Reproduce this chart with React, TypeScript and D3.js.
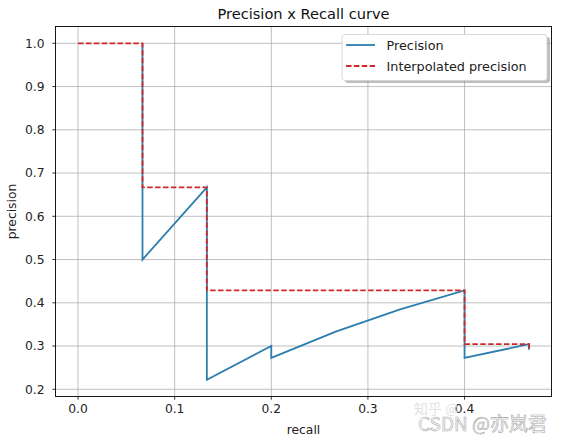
import React from 'react';
import * as d3 from 'd3';

// detections sorted by confidence (15 ground truths)
const recall = [
  0.0667, 0.0667, 0.1333, 0.1333, 0.1333, 0.1333, 0.1333, 0.1333, 0.1333, 0.2, 0.2, 0.2667,
  0.3333, 0.4, 0.4, 0.4, 0.4, 0.4, 0.4, 0.4, 0.4, 0.4, 0.4667, 0.4667,
];
const precision = [
  1.0, 0.5, 0.6667, 0.5, 0.4, 0.3333, 0.2857, 0.25, 0.2222, 0.3, 0.2727, 0.3333, 0.3846,
  0.4286, 0.4, 0.375, 0.3529, 0.3333, 0.3158, 0.3, 0.2857, 0.2727, 0.3043, 0.2917,
];
const interpRecall = [0, 0.0667, 0.0667, 0.1333, 0.1333, 0.4, 0.4, 0.4667, 0.4667];
const interpPrecision = [1.0, 1.0, 0.6667, 0.6667, 0.4286, 0.4286, 0.3043, 0.3043, 0.2917];
const xTicks = [0.0, 0.1, 0.2, 0.3, 0.4];
const yTicks = [0.2, 0.3, 0.4, 0.5, 0.6, 0.7, 0.8, 0.9, 1.0];

const W = 567;
const H = 439;
const left = 55.5;
const right = 551.5;
const top = 26.5;
const bottom = 396.5;
const font = "'DejaVu Sans', sans-serif";
const blue = '#2b7eae';
const red = '#d02828';

export default function App() {
  const x = d3.scaleLinear().domain([-0.02333, 0.49]).range([left, right]);
  const y = d3.scaleLinear().domain([0.18333, 1.03889]).range([bottom, top]);

  const line = d3
    .line<[number, number]>()
    .x((d) => x(d[0]))
    .y((d) => y(d[1]));

  const precPts = recall.map((r, i) => [r, precision[i]] as [number, number]);
  const interpPts = interpRecall.map((r, i) => [r, interpPrecision[i]] as [number, number]);

  return (
    <svg
      width={W}
      height={H}
      style={{ position: 'absolute', left: 0, top: 0, background: '#fff' }}
      fontFamily={font}
    >
      <defs>
        <clipPath id="plot">
          <rect x={left} y={top} width={right - left} height={bottom - top} />
        </clipPath>
      </defs>

      {/* grid */}
      {xTicks.map((t) => (
        <line key={'gx' + t} x1={x(t)} x2={x(t)} y1={top} y2={bottom} stroke="#b0b0b0" strokeWidth={0.8} />
      ))}
      {yTicks.map((t) => (
        <line key={'gy' + t} x1={left} x2={right} y1={y(t)} y2={y(t)} stroke="#b0b0b0" strokeWidth={0.8} />
      ))}

      <g clipPath="url(#plot)" fill="none" strokeWidth={1.8}>
        <path d={line(precPts) ?? ''} stroke={blue} strokeLinejoin="miter" />
        <path d={line(interpPts) ?? ''} stroke={red} strokeDasharray="5.5,2.4" />
      </g>

      {/* frame */}
      <rect x={left} y={top} width={right - left} height={bottom - top} fill="none" stroke="#000" strokeWidth={0.9} />

      {/* x ticks */}
      {xTicks.map((t) => (
        <g key={'xt' + t} transform={`translate(${x(t)},${bottom})`}>
          <line y2={3.2} stroke="#000" strokeWidth={0.8} />
          <text y={16} textAnchor="middle" fontSize={12.3} fill="#222">
            {d3.format('.1f')(t)}
          </text>
        </g>
      ))}
      {/* y ticks */}
      {yTicks.map((t) => (
        <g key={'yt' + t} transform={`translate(${left},${y(t)})`}>
          <line x2={-3.2} stroke="#000" strokeWidth={0.8} />
          <text x={-11} dy="0.35em" textAnchor="end" fontSize={12.3} fill="#222">
            {d3.format('.1f')(t)}
          </text>
        </g>
      ))}

      <text x={(left + right) / 2} y={19} textAnchor="middle" fontSize={14.6} fill="#111">
        Precision x Recall curve
      </text>
      <text x={(left + right) / 2} y={434} textAnchor="middle" fontSize={12.3} fill="#222">
        recall
      </text>
      <text transform={`translate(16,${(top + bottom) / 2}) rotate(-90)`} textAnchor="middle" fontSize={12.3} fill="#222">
        precision
      </text>

      {/* legend */}
      <g>
        <rect x={345} y={37} width={205} height={46} rx={3} fill="#888" opacity={0.55} />
        <rect x={342} y={34.5} width={205} height={46} rx={3} fill="#fff" stroke="#d0d0d0" strokeWidth={0.8} />
        <line x1={346} x2={375} y1={45} y2={45} stroke={blue} strokeWidth={1.8} />
        <text x={386.5} y={49.5} fontSize={12.8} fill="#222">Precision</text>
        <line x1={346} x2={375} y1={66} y2={66} stroke={red} strokeWidth={1.8} strokeDasharray="5.5,2.4" />
        <text x={386.5} y={70.5} fontSize={12.8} fill="#222">Interpolated precision</text>
      </g>

      {/* watermark */}
      <text x={414} y={414} fontSize={14} fill="#e2e2e2" fontFamily="'Noto Sans CJK SC', sans-serif">
        知乎 @
      </text>
      <text
        x={418}
        y={431}
        fontSize={19}
        fill="#fff"
        stroke="#a8a8a8"
        strokeWidth={0.6}
        fontFamily="'Noto Sans CJK SC', sans-serif"
      >
        CSDN @亦岚君
      </text>
    </svg>
  );
}
